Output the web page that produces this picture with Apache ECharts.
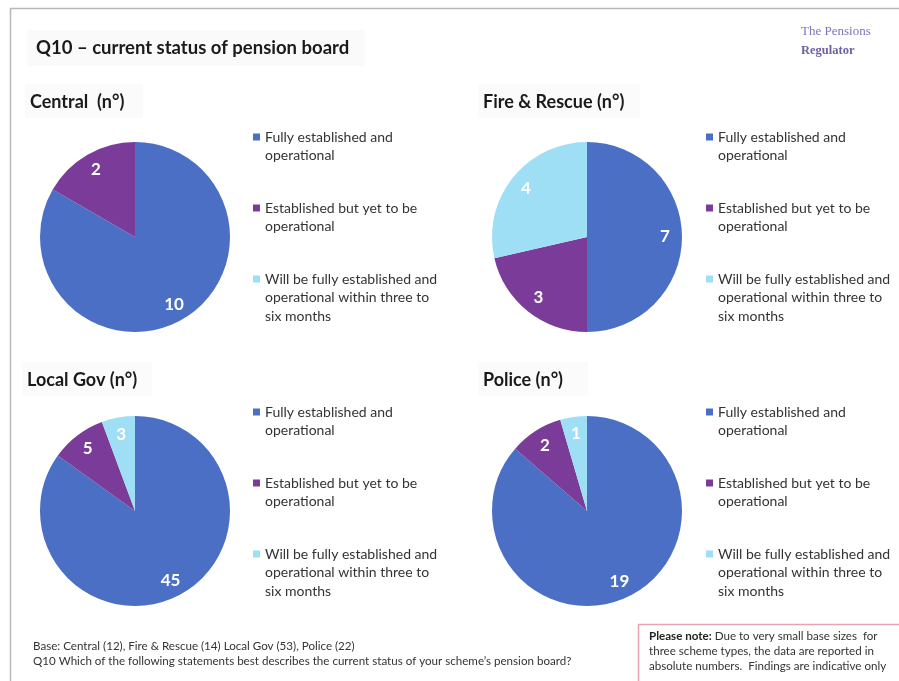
<!DOCTYPE html>
<html>
<head>
<meta charset="utf-8">
<script src="https://cdn.jsdelivr.net/npm/echarts@6/dist/echarts.min.js"></script>
<style>
html,body{margin:0;padding:0;background:#fff;}
#chart{width:899px;height:681px;}
</style>
</head>
<body>
<div id="chart"></div>
<script>
// ---- data ----
var categories = [
  'Fully established and\noperational',
  'Established but yet to be\noperational',
  'Will be fully established and\noperational within three to\nsix months'
];
var panelTitles = ['Central  (n\u00b0)', 'Fire & Rescue (n\u00b0)', 'Local Gov (n\u00b0)', 'Police (n\u00b0)'];
var centralValues = [10, 2, 0];
var fireValues = [7, 3, 4];
var localGovValues = [45, 5, 3];
var policeValues = [19, 2, 1];
var mainTitle = 'Q10 \u2013 current status of pension board';
var baseNote = 'Base: Central (12), Fire & Rescue (14) Local Gov (53), Police (22)';
var questionNote = 'Q10 Which of the following statements best describes the current status of your scheme\u2019s pension board?';

// ---- style / layout ----
var colors = ['#4a6fc4', '#7a3c98', '#9fdff6'];
var FONT = 'Lato, "Open Sans", sans-serif';
var R = 95;
var panels = [
  {values: centralValues, center: [135, 237], legendX: 253, legendY: [137, 208, 279], title: [25, 88]},
  {values: fireValues, center: [587, 237], legendX: 706, legendY: [137, 208, 279], title: [478, 88]},
  {values: localGovValues, center: [135, 511], legendX: 253, legendY: [412, 483, 554], title: [22, 366]},
  {values: policeValues, center: [587, 511], legendX: 706, legendY: [412, 483, 554], title: [478, 366]}
];
var LH = 18.5;

function iconPath(nLines) {
  var H = nLines * LH;
  var y0 = LH / 2 - 3.5;
  return 'path://M0,0h0.01v0.01h-0.01z M0,' + y0 + 'h7v7h-7z M6.99,' + (H - 0.01) + 'h0.01v0.01h-0.01z';
}

var series = [];
var legends = [];
var titles = [{
  text: mainTitle, left: 31, top: 34,
  textStyle: {fontFamily: FONT, fontSize: 18.5, fontWeight: 'bold', color: '#1a1a1a'}
}];

panels.forEach(function (p, pi) {
  var data = categories.map(function (c, i) {
    return {name: c, value: p.values[i], itemStyle: {color: colors[i]}};
  });
  series.push({
    type: 'pie', center: p.center, radius: [0, R], startAngle: 90, clockwise: true,
    label: {show: false}, labelLine: {show: false}, silent: true,
    itemStyle: {borderWidth: 0},
    data: data
  });
  series.push({
    type: 'pie', center: p.center, radius: [55, R], startAngle: 90, clockwise: true,
    silent: true, legendHoverLink: false,
    itemStyle: {color: 'rgba(0,0,0,0)', borderWidth: 0},
    label: {
      show: true, position: 'inside', color: '#ffffff', fontFamily: FONT,
      fontSize: 17, fontWeight: 'bold',
      formatter: function (q) { return q.value ? String(q.value) : ''; }
    },
    labelLine: {show: false},
    data: categories.map(function (c, i) { return {name: c, value: p.values[i]}; })
  });
  categories.forEach(function (c, i) {
    var n = c.split('\n').length;
    legends.push({
      left: p.legendX, top: p.legendY[i] - LH / 2, padding: 0,
      orient: 'vertical', itemWidth: 7, itemHeight: n * LH, itemGap: 0,
      selectedMode: false,
      data: [{name: c, icon: iconPath(n), itemStyle: {color: colors[i]}}],
      textStyle: {fontFamily: FONT, fontSize: 14, lineHeight: LH, color: '#333333'}
    });
  });
  titles.push({
    text: panelTitles[pi], left: p.title[0], top: p.title[1],
    textStyle: {fontFamily: FONT, fontSize: 18, fontWeight: 'bold', color: '#1a1a1a'}
  });
});

var NOTE_FONT = '11.6px ' + FONT;
var graphics = [
  {type: 'rect', shape: {x: 10.5, y: 8.5, width: 1000, height: 1000}, style: {fill: 'none', stroke: '#b8b8b8', lineWidth: 1.5}, z: -10},
  {type: 'rect', shape: {x: 27, y: 30, width: 338, height: 36}, style: {fill: '#fafafa'}, z: -5},
  {type: 'rect', shape: {x: 25, y: 84, width: 118, height: 34}, style: {fill: '#fbfbfb'}, z: -5},
  {type: 'rect', shape: {x: 478, y: 84, width: 162, height: 34}, style: {fill: '#fbfbfb'}, z: -5},
  {type: 'rect', shape: {x: 22, y: 362, width: 130, height: 34}, style: {fill: '#fbfbfb'}, z: -5},
  {type: 'rect', shape: {x: 478, y: 362, width: 110, height: 34}, style: {fill: '#fbfbfb'}, z: -5},
  {type: 'text', left: 801, top: 25, style: {text: 'The Pensions', font: '13px "Liberation Serif", serif', fill: '#7d74bb'}},
  {type: 'text', left: 801, top: 44, style: {text: 'Regulator', font: 'bold 12.5px "Liberation Serif", serif', fill: '#6e5f9e'}},
  {type: 'text', left: 33, top: 640, style: {text: baseNote, font: NOTE_FONT, fill: '#333333'}},
  {type: 'text', left: 33, top: 655, style: {text: questionNote, font: NOTE_FONT, fill: '#333333'}},
  {type: 'rect', shape: {x: 638.5, y: 624.5, width: 300, height: 70}, style: {fill: '#ffffff', stroke: '#e9a3b3', lineWidth: 1.5}, z: -5},
  {type: 'text', left: 649, top: 630, style: {
    rich: {b: {font: 'bold ' + NOTE_FONT, fill: '#222'}, n: {font: NOTE_FONT, fill: '#333'}},
    text: '{b|Please note:}{n| Due to very small base sizes  for}'
  }},
  {type: 'text', left: 649, top: 645, style: {text: 'three scheme types, the data are reported in', font: NOTE_FONT, fill: '#333'}},
  {type: 'text', left: 649, top: 660, style: {text: 'absolute numbers.  Findings are indicative only', font: NOTE_FONT, fill: '#333'}}
];

var chart = echarts.init(document.getElementById('chart'), null, {renderer: 'canvas'});
chart.setOption({
  backgroundColor: '#ffffff',
  animation: false,
  title: titles,
  legend: legends,
  series: series,
  graphic: graphics
});
</script>
</body>
</html>
